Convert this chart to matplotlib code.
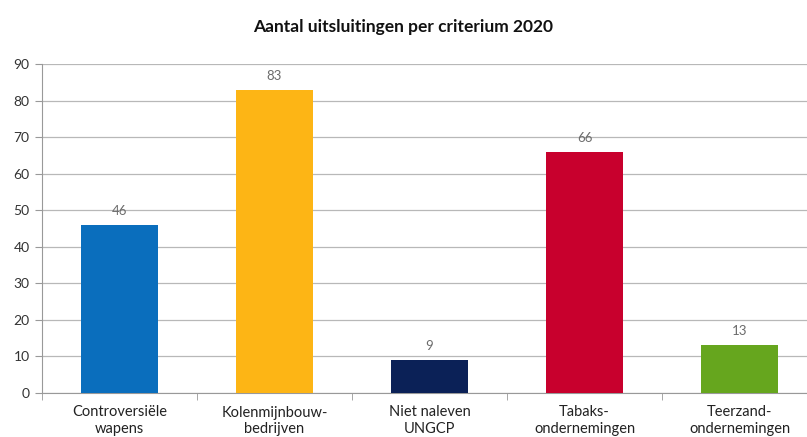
#!/usr/bin/env python
"""
Bar chart: aantal uitsluitingen per criterium 2020
"""

import matplotlib.pyplot as plt
import numpy as np

categories = [
    "Controversiële\nwapens",
    "Kolenmijnbouw-\nbedrijven",
    "Niet naleven\nUNGCP",
    "Tabaks-\nondernemingen",
    "Teerzand-\nondernemingen",
]
values = [46, 83, 9, 66, 13]
colors = ["#0A6EBD", "#FDB515", "#0B2157", "#C8002D", "#66A61E"]
y_ticks = [0, 10, 20, 30, 40, 50, 60, 70, 80, 90]


def main():
    plt.rcParams["font.family"] = ["Lato", "DejaVu Sans"]
    fig = plt.figure(figsize=(8.07, 4.37), dpi=100)
    ax = fig.add_axes([42 / 807, 44 / 437, 775 / 807, 329 / 437])

    x = np.arange(len(values))
    ax.bar(x, values, width=0.5, color=colors, zorder=3)
    for xi, v in zip(x, values):
        ax.text(xi, v + 2.2, str(v), ha="center", va="bottom",
                fontsize=9.5, color="#6b6b6b")

    ax.set_xlim(-0.5, 4.5)
    ax.set_ylim(0, 90)
    ax.set_yticks(y_ticks)
    ax.yaxis.grid(True, color="#b8b8b8", linewidth=0.9, zorder=0)
    ax.set_xticks(x)
    ax.set_xticklabels(categories, fontsize=10.5, color="#222222", linespacing=1.25)
    ax.tick_params(axis="x", length=0, pad=9)
    ax.set_xticks(np.arange(-0.5, 5, 1), minor=True)
    ax.tick_params(axis="x", which="minor", length=5, color="#999999")
    ax.tick_params(axis="y", length=5, color="#999999", labelsize=10,
                   labelcolor="#333333", pad=4)
    for side in ["top", "right"]:
        ax.spines[side].set_visible(False)
    for side in ["left", "bottom"]:
        ax.spines[side].set_color("#999999")

    fig.text(0.5, 1 - 27 / 437, "Aantal uitsluitingen per criterium 2020",
             ha="center", va="center", fontsize=12.5, fontweight="bold",
             color="#111111")
    fig.savefig("out.png", dpi=100)


if __name__ == "__main__":
    main()
